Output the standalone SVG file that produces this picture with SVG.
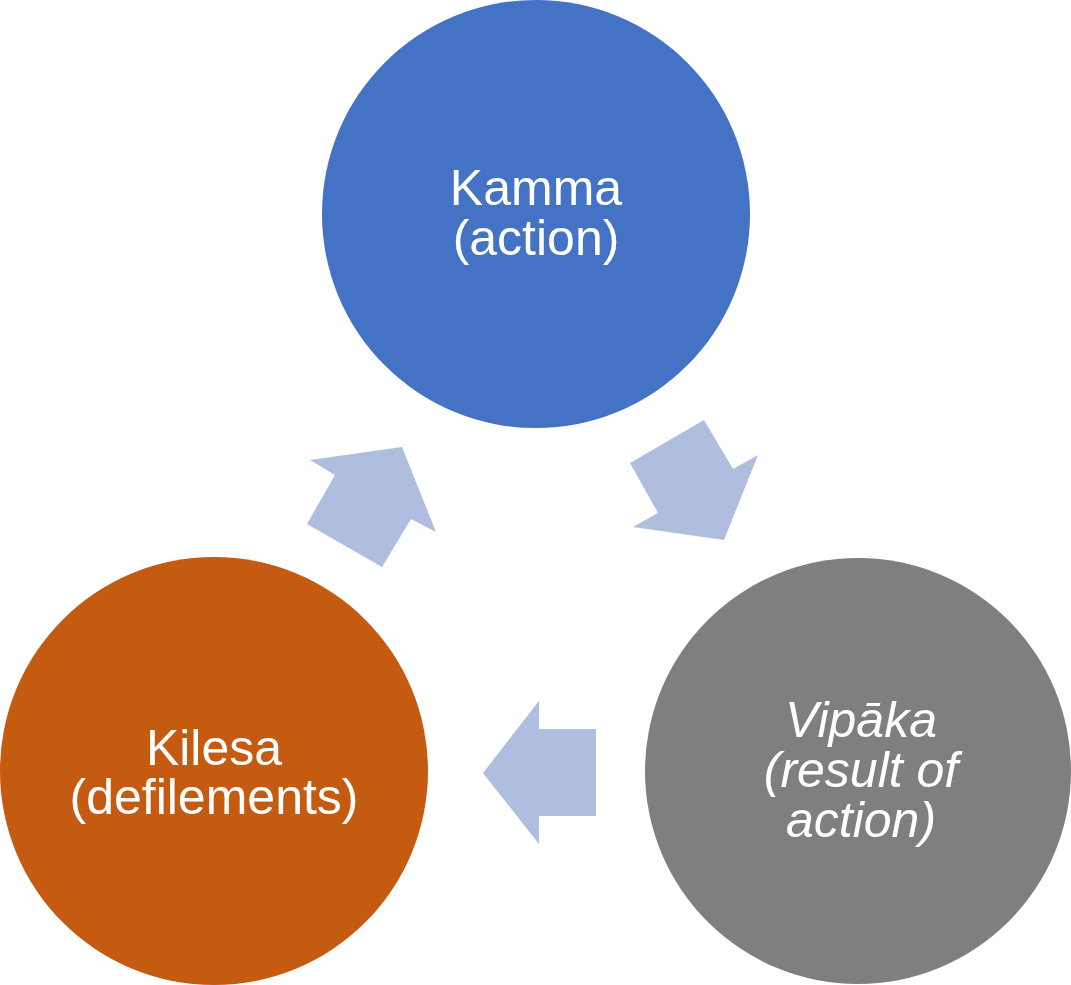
<svg xmlns="http://www.w3.org/2000/svg" width="1071" height="985" viewBox="0 0 1071 985">
<style>
.lbl{font-family:"Liberation Sans",Arial,sans-serif;font-size:50px;fill:#ffffff;text-anchor:middle}
.it{font-style:italic}
.arr{fill:#AFBDDF}
</style>
<rect width="1071" height="985" fill="#ffffff"/>
<g id="connectors">
<polygon class="arr" points="310,460 402,447 436,532 411,519 382,567 307,524 335,475"/>
<polygon class="arr" points="630,463 704,420 733,469 758,455 724,540 633,527 658,513"/>
<polygon class="arr" points="483,773 539,701 539,729 596,729 596,816 539,816 539,844"/>
</g>
<g id="kamma">
<circle cx="536" cy="214" r="214" fill="#4472C4"/>
<text class="lbl" x="536" y="205">Kamma</text>
<text class="lbl" x="536" y="255">(action)</text>
</g>
<g id="vipaka">
<circle cx="858" cy="771" r="213" fill="#7F7F7F"/>
<text class="lbl it" x="861" y="737">Vipāka</text>
<text class="lbl it" x="861" y="787">(result of</text>
<text class="lbl it" x="861" y="837">action)</text>
</g>
<g id="kilesa">
<circle cx="214" cy="771" r="214" fill="#C55A11"/>
<text class="lbl" x="214" y="765">Kilesa</text>
<text class="lbl" x="214" y="814">(defilements)</text>
</g>
</svg>
